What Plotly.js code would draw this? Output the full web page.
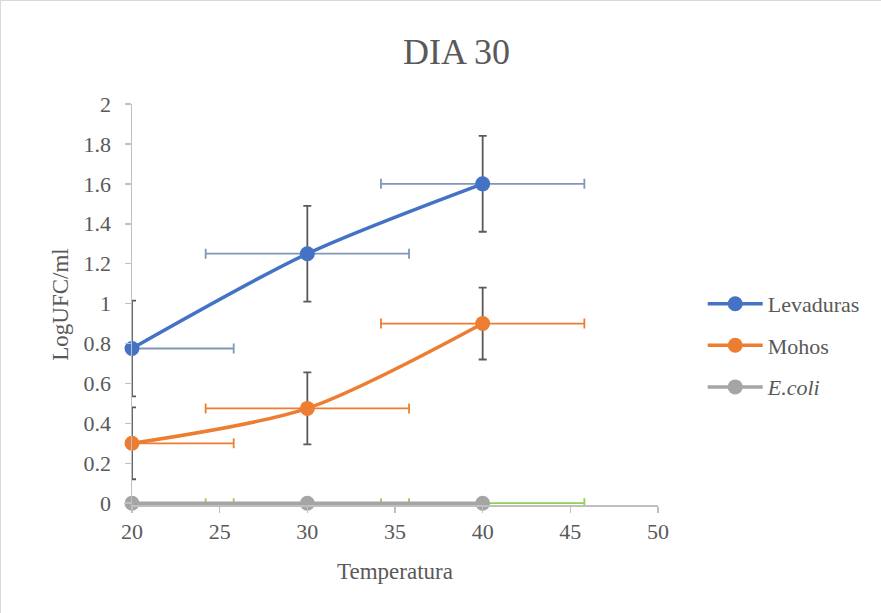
<!DOCTYPE html>
<html>
<head>
<meta charset="utf-8">
<script src="https://cdn.plot.ly/plotly-3.0.1.min.js"></script>
<style>
html,body{margin:0;padding:0;background:#fff;}
#chart{width:879px;height:611px;border:1px solid #d9d9d9;}
</style>
</head>
<body>
<div id="chart"></div>
<script>
var temperatura = [20, 30, 40];
var levaduras = [0.775, 1.25, 1.6];
var mohos = [0.30, 0.475, 0.90];
var ecoli = [0, 0, 0];
var levadurasErrY = [0.24, 0.24, 0.24];
var mohosErrY = [0.18, 0.18, 0.18];
var ecoliErrY = [0, 0, 0];
var errXPlus = [5.8, 5.8, 5.8];
var errXMinus = [0, 5.8, 5.8];
var xTicks = [20, 25, 30, 35, 40, 45, 50];
var yTicks = [0, 0.2, 0.4, 0.6, 0.8, 1, 1.2, 1.4, 1.6, 1.8, 2];
var yTickText = ['0', '0.2', '0.4', '0.6', '0.8', '1', '1.2', '1.4', '1.6', '1.8', '2'];

var FAM = '"Liberation Serif", serif';

function mk(name, y, ey, color, exColor, group) {
  return {
    x: temperatura, y: y, name: name, type: 'scatter', mode: 'lines+markers',
    legendgroup: group,
    line: {color: color, width: 3.5, shape: 'spline', smoothing: 0.8},
    marker: {color: color, size: 15},
    cliponaxis: false,
    error_y: {type: 'data', array: ey, visible: true, color: '#595959', thickness: 1.8, width: 4},
    error_x: {type: 'data', symmetric: false, array: errXPlus, arrayminus: errXMinus, visible: true, color: exColor, thickness: 1.8, width: 5}
  };
}

var data = [
  mk('Levaduras', levaduras, levadurasErrY, '#4472c4', '#7f97ba', 'a'),
  mk('Mohos', mohos, mohosErrY, '#ed7d31', '#ed7d31', 'b'),
  mk('<i>E.coli</i>', ecoli, ecoliErrY, '#a5a5a5', '#92d050', 'c')
];
data[2].error_y.visible = false;

var layout = {
  width: 881, height: 613,
  margin: {l: 131, r: 224, t: 103, b: 109},
  paper_bgcolor: '#fff', plot_bgcolor: '#fff',
  font: {family: FAM, color: '#595959', size: 22},
  title: {text: 'DIA 30', font: {family: FAM, size: 36, color: '#595959'}, x: 0.517, xanchor: 'center', y: 0.918, yanchor: 'middle'},
  xaxis: {
    range: [20, 50], tickvals: xTicks, ticktext: xTicks.map(String),
    showgrid: false, zeroline: false, showline: true, linecolor: '#bfbfbf', linewidth: 1.5,
    ticks: 'outside', ticklen: 6, tickcolor: '#bfbfbf', tickwidth: 1.5,
    tickfont: {family: FAM, size: 22, color: '#595959'},
    title: {text: 'Temperatura', font: {family: FAM, size: 23, color: '#595959'}, standoff: 20}
  },
  yaxis: {
    range: [-0.009, 2], tickvals: yTicks, ticktext: yTickText,
    showgrid: false, zeroline: false, showline: true, linecolor: '#bfbfbf', linewidth: 1.5,
    ticks: 'outside', ticklen: 6, tickcolor: '#bfbfbf', tickwidth: 1.5, ticklabelstandoff: 9,
    tickfont: {family: FAM, size: 22, color: '#595959'},
    title: {text: 'LogUFC/ml', font: {family: FAM, size: 23, color: '#595959'}, standoff: 8}
  },
  showlegend: true,
  legend: {x: 1.085, xanchor: 'left', y: 0.398, yanchor: 'middle', itemwidth: 55,
    font: {family: FAM, size: 22, color: '#595959'}, traceorder: 'grouped', tracegroupgap: 10, bgcolor: 'rgba(0,0,0,0)'}
};

Plotly.newPlot('chart', data, layout, {displayModeBar: false, staticPlot: true});
</script>
</body>
</html>
